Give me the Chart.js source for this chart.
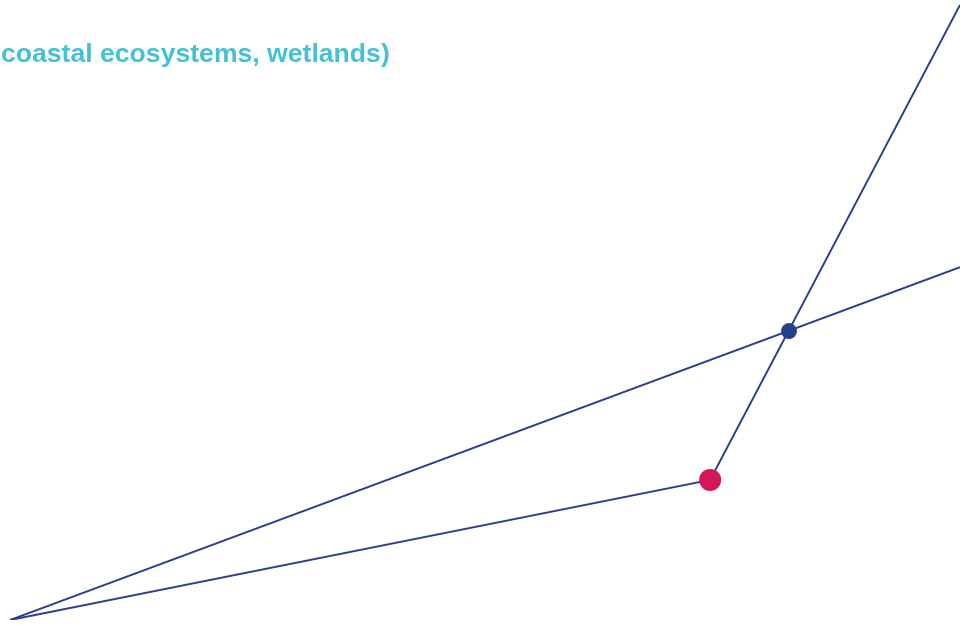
<!DOCTYPE html>
<html>
<head>
<meta charset="utf-8">
<script src="https://cdn.jsdelivr.net/npm/chart.js@4"></script>
<style>
    html, body { margin: 0; padding: 0; background: #ffffff; }
    #wrap { position: relative; width: 960px; height: 625px; overflow: hidden; }
    #titulo {
        position: absolute; left: 1px; top: 40px; margin: 0;
        font-family: "Liberation Sans", Arial, sans-serif; font-weight: bold;
        font-size: 26.6px; line-height: 1; color: #45c1d6; white-space: nowrap;
    }
    canvas { position: absolute; left: 0; top: 0; }
</style>
</head>
<body>
<div id="wrap">
    <canvas id="grafico" width="960" height="625"></canvas>
    <p id="titulo">coastal ecosystems, wetlands)</p>
</div>
<script>
// dados do gráfico (unidades arbitrárias, 0-100)
const linhaRetaX = [0, 100]
const linhaRetaY = [0, 56.9]
const linhaQuebradaX = [0, 73.7, 100]
const linhaQuebradaY = [0, 22.6, 99.2]
const pontoVermelho = [73.7, 22.6]
const pontoAzul = [82.0, 46.6]

const corLinha = '#2b3f8f'

function pares(xs, ys) {
    return xs.map((x, i) => ({ x: x, y: ys[i] }))
}

new Chart(document.getElementById('grafico'), {
    type: 'scatter',
    data: {
        datasets: [{
            label: 'ponto vermelho',
            data: [{ x: pontoVermelho[0], y: pontoVermelho[1] }],
            pointRadius: 11,
            pointBackgroundColor: '#d6165a',
            pointBorderWidth: 0,
            order: 0
        }, {
            label: 'ponto azul',
            data: [{ x: pontoAzul[0], y: pontoAzul[1] }],
            pointRadius: 8,
            pointBackgroundColor: '#263f8c',
            pointBorderWidth: 0,
            order: 0
        }, {
            label: 'reta',
            data: pares(linhaRetaX, linhaRetaY),
            showLine: true,
            borderColor: corLinha,
            borderWidth: 2,
            pointRadius: 0,
            order: 1
        }, {
            label: 'quebrada',
            data: pares(linhaQuebradaX, linhaQuebradaY),
            showLine: true,
            borderColor: corLinha,
            borderWidth: 2,
            pointRadius: 0,
            order: 1
        }]
    },
    options: {
        responsive: false,
        animation: false,
        layout: { autoPadding: false, padding: { left: 10, right: 0, top: 0, bottom: 5 } },
        plugins: {
            legend: { display: false },
            tooltip: { enabled: false }
        },
        scales: {
            x: { type: 'linear', min: 0, max: 100, display: false },
            y: { type: 'linear', min: 0, max: 100, display: false }
        },
        elements: { line: { tension: 0 } }
    }
});
</script>
</body>
</html>
